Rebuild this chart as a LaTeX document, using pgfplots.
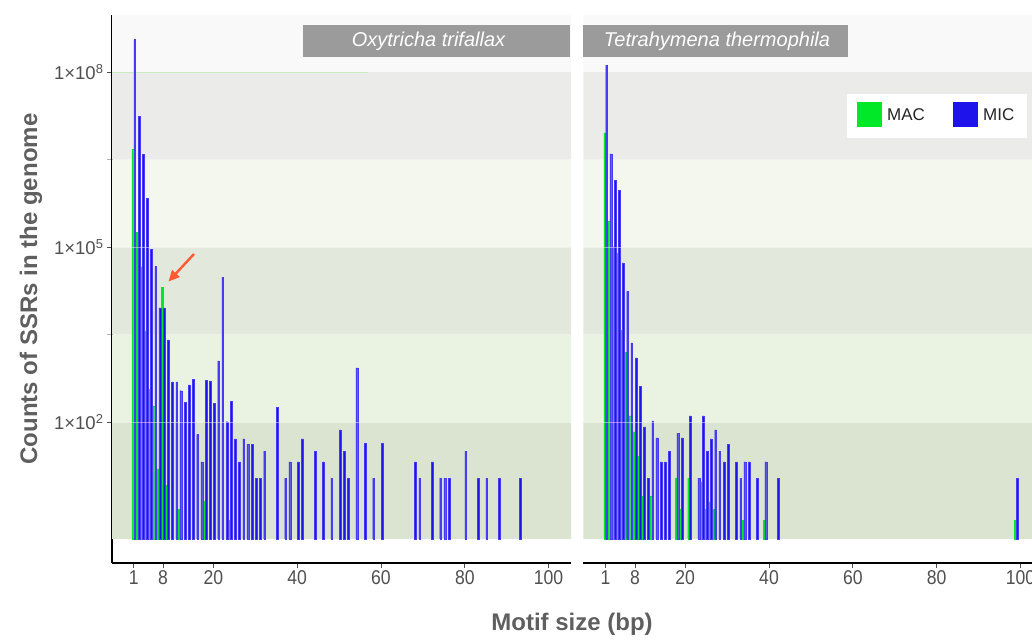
\documentclass[border=0pt]{standalone}
\usepackage{fontspec}
\setmainfont{Liberation Sans}
\newfontfamily\narrowfont[FakeStretch=0.88]{Liberation Sans}
\usepackage{pgfplots}
\pgfplotsset{compat=1.18}
\usetikzlibrary{arrows.meta}

\definecolor{mic}{RGB}{30,20,235}
\definecolor{micedge}{RGB}{70,60,245}
\definecolor{mac}{RGB}{0,232,40}
\definecolor{bandtop}{HTML}{F9F9F9}
\definecolor{bandA}{HTML}{EBEBEA}
\definecolor{bandB}{HTML}{F3F7EE}
\definecolor{bandC}{HTML}{E3E8DC}
\definecolor{bandD}{HTML}{EAF2E2}
\definecolor{bandE}{HTML}{DBE4D1}
\definecolor{stripgray}{RGB}{155,155,155}
\definecolor{arrowc}{RGB}{255,90,50}
\definecolor{labgray}{RGB}{95,95,95}
\definecolor{tickgray}{RGB}{80,80,80}
\definecolor{greenline}{RGB}{200,236,190}

\newcommand{\bands}[2]{%
 \addplot[draw=none, fill=bandtop, forget plot] coordinates {(#1,1e8) (#2,1e8) (#2,9.5e8) (#1,9.5e8) (#1,1e8)};
 \addplot[draw=none, fill=bandA, forget plot] coordinates {(#1,3.1623e6) (#2,3.1623e6) (#2,1e8) (#1,1e8) (#1,3.1623e6)};
 \addplot[draw=none, fill=bandB, forget plot] coordinates {(#1,1e5) (#2,1e5) (#2,3.1623e6) (#1,3.1623e6) (#1,1e5)};
 \addplot[draw=none, fill=bandC, forget plot] coordinates {(#1,3162.3) (#2,3162.3) (#2,1e5) (#1,1e5) (#1,3162.3)};
 \addplot[draw=none, fill=bandD, forget plot] coordinates {(#1,100) (#2,100) (#2,3162.3) (#1,3162.3) (#1,100)};
 \addplot[draw=none, fill=bandE, forget plot] coordinates {(#1,1) (#2,1) (#2,100) (#1,100) (#1,1)};
}
\newcommand{\whitelines}[2]{%
 \addplot[white, opacity=0.45, line width=0.7pt, forget plot] coordinates {(#1,100) (#2,100)};
 \addplot[white, opacity=0.45, line width=0.7pt, forget plot] coordinates {(#1,1e5) (#2,1e5)};
}

\begin{document}
\begin{tikzpicture}[x=1pt,y=1pt]
\useasboundingbox (0,0) rectangle (1032,639);

% ---------------- Oxytricha trifallax ----------------
\begin{axis}[at={(112pt,76pt)}, anchor=south west,
  scale only axis, width=459pt, height=548pt,
  xmin=-4.2, xmax=105.35,
  ymode=log, ymin=0.387, ymax=9.5e8, log origin=0,
  xtick={1,8,20,40,60,80,100}, xticklabels={1,8,20,40,60,80,100},
  ytick={100,100000,100000000},
  yticklabels={1×10\textsuperscript{2},1×10\textsuperscript{5},1×10\textsuperscript{8}},
  minor ytick={3162.28,3162277.66},
  tick align=outside, major tick length=5pt, minor tick length=5pt,
  major tick style={tickgray, line width=0.8pt},
  minor tick style={black!30, line width=0.8pt},
  yticklabel style={font=\fontsize{18.5}{18.5}\selectfont, text=tickgray},
  xticklabel style={font=\narrowfont\fontsize{20}{20}\selectfont, text=tickgray, yshift=1pt},
  axis x line*=bottom, axis y line*=left,
  axis line style={-, black, line width=1.3pt},
  xtick pos=left, ytick pos=left]
\bands{-4.2}{105.35}
\addplot[greenline, line width=0.6pt, forget plot] coordinates {(-4.2,1e8) (57,1e8)};
\addplot[ybar, bar width=0.42, bar shift=-0.225, fill=mac, draw=mac, line width=0.15pt, forget plot] coordinates {
(1,4.8e6) (2,1.78e5) (3,4.57e4) (4,3630) (5,363) (6,190) (7,15.8) (8,2.04e4)
(9,8.3) (12,3.2) (18,4.4) (24,2.1)};
\addplot[ybar, bar width=0.42, bar shift=0.225, fill=mic, draw=micedge, line width=0.25pt, forget plot] coordinates {
(1,3.6e8) (2,1.74e7) (3,3.9e6) (4,6.9e5) (5,9.1e4) (6,4.7e4) (7,9100) (8,9100)
(9,2570) (10,490) (11,490) (12,347) (13,219) (14,437) (15,550) (16,62)
(17,21) (18,525) (19,513) (20,209) (21,1120) (22,30200) (23,102) (24,229)
(25,52) (26,21) (27,52) (28,42) (29,42) (30,11) (31,11) (32,32)
(35,178) (37,11) (38,21) (40,21) (41,52) (44,32) (46,21) (48,11)
(50,74) (51,32) (52,11) (54,851) (56,43) (58,11) (60,43) (68,21)
(69,11) (72,21) (74,11) (75,11) (76,11) (80,32) (83,11) (85,11)
(88,11) (93,11)};
\whitelines{-4.2}{105.35}
\end{axis}

% ---------------- Tetrahymena thermophila ----------------
\begin{axis}[at={(583.4pt,76pt)}, anchor=south west,
  scale only axis, width=448.6pt, height=548pt,
  xmin=-4.3, xmax=102.76,
  ymode=log, ymin=0.387, ymax=9.5e8, log origin=0,
  xtick={1,8,20,40,60,80,100}, xticklabels={1,8,20,40,60,80,100},
  ytick=\empty,
  tick align=outside, major tick length=5pt,
  major tick style={tickgray, line width=0.8pt},
  xticklabel style={font=\narrowfont\fontsize{20}{20}\selectfont, text=tickgray, yshift=1pt},
  axis x line*=bottom, axis y line=none,
  axis line style={-, black, line width=1.3pt},
  xtick pos=left]
\bands{-4.3}{102.76}
\addplot[ybar, bar width=0.42, bar shift=-0.225, fill=mac, draw=mac, line width=0.15pt, forget plot] coordinates {
(1,9.1e6) (2,2.75e5) (3,1.02e5) (4,7.8e4) (5,3720) (6,1580) (7,129) (8,68)
(9,26) (10,5.4) (12,5.4) (18,11) (19,3.2) (21,11) (24,9.5) (25,3.2)
(26,4.3) (27,3.2) (34,2.1) (39,2.1) (99,2.1)};
\addplot[ybar, bar width=0.42, bar shift=0.225, fill=mic, draw=micedge, line width=0.25pt, forget plot] coordinates {
(1,1.32e8) (2,3.98e6) (3,1.38e6) (4,9.3e5) (5,5.37e4) (6,1.74e4) (7,2290) (8,1260)
(9,417) (10,83) (11,11) (12,105) (13,54) (14,21) (15,21) (16,32)
(18,65) (19,54) (21,129) (23,11) (24,129) (25,32) (26,52) (27,74)
(28,32) (29,21) (30,42) (32,21) (33,11) (34,21) (35,21) (37,11)
(39,21) (42,11) (99,11)};
\whitelines{-4.3}{102.76}
\end{axis}

% strips
\fill[stripgray] (303,582) rectangle (570,614);
\node[text=white, font=\itshape\fontsize{20}{20}\selectfont] at (428.5,598) {Oxytricha trifallax};
\fill[stripgray] (583,582) rectangle (848,614);
\node[text=white, font=\itshape\fontsize{20}{20}\selectfont] at (717,598) {Tetrahymena thermophila};

% legend
\fill[white] (847,501) rectangle (1027,545);
\fill[mac] (857,512) rectangle (882,537);
\node[anchor=west, font=\fontsize{17}{17}\selectfont, text=black!85, inner sep=0pt] at (887,524.5) {MAC};
\fill[mic] (953,512) rectangle (978,537);
\node[anchor=west, font=\fontsize{17}{17}\selectfont, text=black!85, inner sep=0pt] at (983,524.5) {MIC};

% arrow
\draw[-{Triangle[length=11pt,width=10pt]}, line width=2.4pt, arrowc] (194,385) -- (168.5,357.5);

% axis titles
\node[rotate=90, font=\bfseries\fontsize{24}{24}\selectfont, text=labgray] at (31,350) {Counts of SSRs in the genome};
\node[font=\bfseries\fontsize{24}{24}\selectfont, text=labgray] at (572,15) {Motif size (bp)};
\end{tikzpicture}
\end{document}
